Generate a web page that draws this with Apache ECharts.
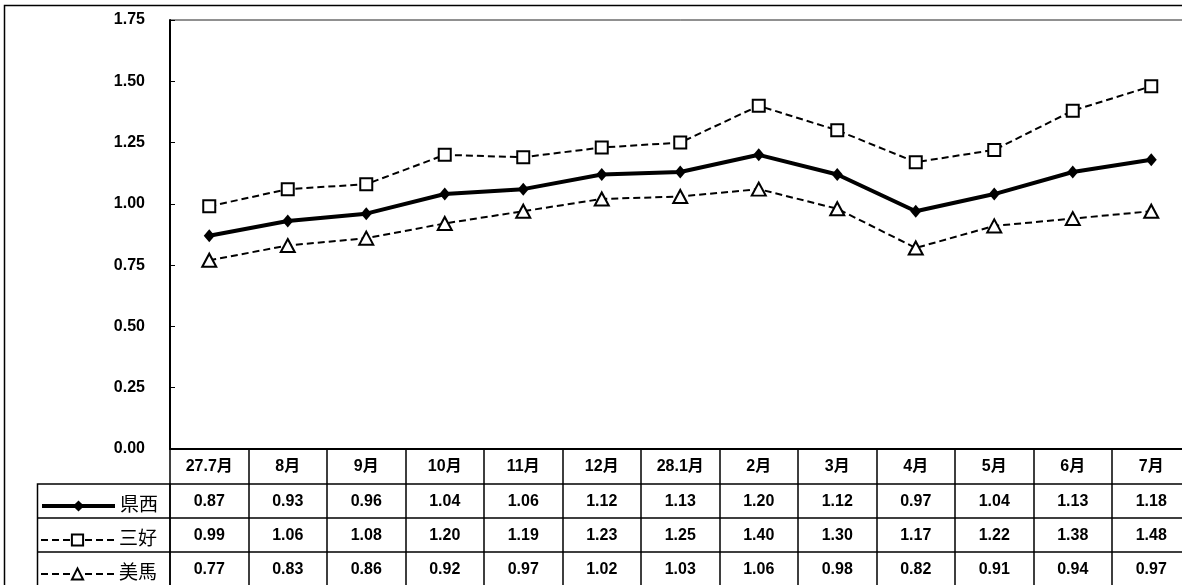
<!DOCTYPE html>
<html>
<head>
<meta charset="utf-8">
<script src="https://cdn.jsdelivr.net/npm/echarts@6/dist/echarts.min.js"></script>
<style>
html,body{margin:0;padding:0;background:#fff;overflow:hidden;}
#c{width:1200px;height:585px;}
</style>
</head>
<body>
<div id="c"></div>
<script>
const months = ['27.7月','8月','9月','10月','11月','12月','28.1月','2月','3月','4月','5月','6月','7月'];
const kensei = [0.87,0.93,0.96,1.04,1.06,1.12,1.13,1.20,1.12,0.97,1.04,1.13,1.18];
const miyoshi = [0.99,1.06,1.08,1.20,1.19,1.23,1.25,1.40,1.30,1.17,1.22,1.38,1.48];
const mima = [0.77,0.83,0.86,0.92,0.97,1.02,1.03,1.06,0.98,0.82,0.91,0.94,0.97];
const seriesNames = ['県西','三好','美馬'];
const yTicks = {min:0, max:1.75, interval:0.25};

const FONT = '"Liberation Sans", Arial, "Noto Sans CJK JP", sans-serif';
const txt = {color:'#000', fontSize:16, fontWeight:'bold', fontFamily:FONT};
const ROW = 34;

function rowAxis(values, idx){
  return {
    type:'category', gridIndex:0, position:'bottom', offset:ROW*idx+1,
    data: values.map(v=>v.toFixed(2)),
    axisLine:{show:true, lineStyle:{color:'#000', width:1.5}},
    axisTick:{show:false},
    axisLabel:Object.assign({interval:0, margin:10}, txt),
    splitLine:{show:false}
  };
}

function legendRow(name, idx, lineWidth){
  return {
    orient:'horizontal', left:35, top:484 + ROW*idx + 7, itemWidth:73, itemHeight:14, itemGap:0,
    textStyle:{color:'#000', fontSize:19, lineHeight:20, fontFamily:FONT},
    lineStyle:{width:lineWidth},
    selectedMode:false,
    data:[name]
  };
}

const chart = echarts.init(document.getElementById('c'));
chart.setOption({
  animation:false,
  backgroundColor:'#fff',
  grid:{left:170, right:9.5, top:20, bottom:136, show:true, borderColor:'#222', borderWidth:1},
  legend:[
    legendRow(seriesNames[0],0,4),
    legendRow(seriesNames[1],1,2),
    legendRow(seriesNames[2],2,2)
  ],
  xAxis:[
    {
      type:'category', gridIndex:0, position:'bottom', data:months, boundaryGap:true,
      axisLine:{show:true, lineStyle:{color:'#000', width:2}},
      axisTick:{show:true, interval:0, length:137, lineStyle:{color:'#000', width:1.5}},
      axisLabel:Object.assign({interval:0, margin:10}, txt),
      splitLine:{show:false}
    },
    rowAxis(kensei,1),
    rowAxis(miyoshi,2),
    rowAxis(mima,3)
  ],
  yAxis:{
    type:'value', min:yTicks.min, max:yTicks.max, interval:yTicks.interval,
    axisLine:{show:true, lineStyle:{color:'#000', width:2}},
    axisTick:{show:true, inside:true, length:5, lineStyle:{color:'#000'}},
    axisLabel:Object.assign({margin:25, formatter:v=>v.toFixed(2)}, txt),
    splitLine:{show:false}
  },
  series:[
    {
      name:seriesNames[0], type:'line', data:kensei, symbol:'diamond', symbolSize:[11,13],
      lineStyle:{color:'#000', width:4}, itemStyle:{color:'#000'}
    },
    {
      name:seriesNames[1], type:'line', data:miyoshi, symbol:'rect', symbolSize:12,
      lineStyle:{color:'#000', width:2, type:[7,4]},
      itemStyle:{color:'#fff', borderColor:'#000', borderWidth:2}
    },
    {
      name:seriesNames[2], type:'line', data:mima, symbol:'triangle', symbolSize:[14,13],
      lineStyle:{color:'#000', width:2, type:[7,4]},
      itemStyle:{color:'#fff', borderColor:'#000', borderWidth:2}
    }
  ],
  graphic:[
    {type:'rect', silent:true, shape:{x:4.5, y:5.5, width:1300, height:700},
     style:{fill:null, stroke:'#000', lineWidth:1.5}},
    {type:'rect', silent:true, shape:{x:37.5, y:484, width:132.5, height:120},
     style:{fill:null, stroke:'#000', lineWidth:1.5}},
    {type:'line', silent:true, shape:{x1:37.5, y1:518, x2:170, y2:518},
     style:{stroke:'#000', lineWidth:1.5}},
    {type:'line', silent:true, shape:{x1:37.5, y1:552, x2:170, y2:552},
     style:{stroke:'#000', lineWidth:1.5}}
  ]
});
</script>
</body>
</html>
